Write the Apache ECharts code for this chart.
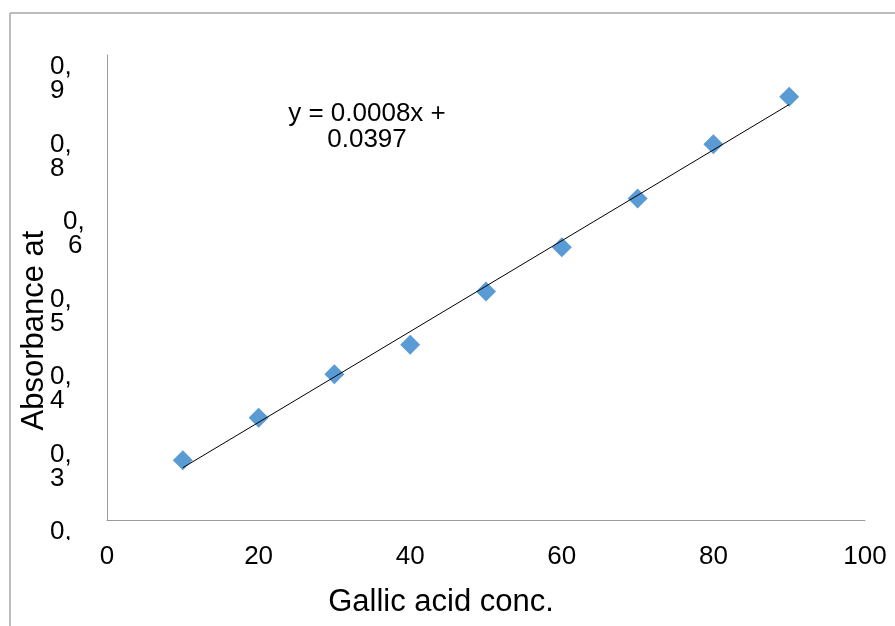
<!DOCTYPE html>
<html>
<head>
<meta charset="utf-8">
<script src="https://cdn.jsdelivr.net/npm/echarts@6/dist/echarts.min.js"></script>
<style>
html,body{margin:0;padding:0;background:#fff;}
#chart{width:895px;height:626px;}
</style>
</head>
<body>
<div id="chart"></div>
<script>
// Data
var concentrations = [10, 20, 30, 40, 50, 60, 70, 80, 90];
var absorbance = [0.077, 0.132, 0.188, 0.226, 0.295, 0.352, 0.415, 0.485, 0.546];
var xTickLabels = ['0', '20', '40', '60', '80', '100'];
var yTickLabels = ['0,\n0', '0,\n3', '0,\n4', '0,\n5', '0,\n6', '0,\n8', '0,\n9'];
var equationLines = ['y = 0.0008x +', '0.0397'];
var xTitle = 'Gallic acid conc.';
var yTitle = 'Absorbance at';

// least-squares trendline from the data
var n = concentrations.length, sx = 0, sy = 0, sxx = 0, sxy = 0;
for (var i = 0; i < n; i++) {
  sx += concentrations[i]; sy += absorbance[i];
  sxx += concentrations[i] * concentrations[i];
  sxy += concentrations[i] * absorbance[i];
}
var slope = (n * sxy - sx * sy) / (n * sxx - sx * sx);
var intercept = (sy - slope * sx) / n;
var xFirst = concentrations[0], xLast = concentrations[n - 1];
var trend = [[xFirst, intercept + slope * xFirst], [xLast, intercept + slope * xLast]];

var font = '"Liberation Sans", Arial, sans-serif';
var chart = echarts.init(document.getElementById('chart'), null, {renderer: 'canvas'});
chart.setOption({
  animation: false,
  backgroundColor: '#ffffff',
  grid: {left: 107, right: 30, top: 55, bottom: 106, containLabel: false},
  xAxis: {
    type: 'value', min: 0, max: 100, interval: 20,
    axisLine: {show: true, lineStyle: {color: '#9a9a9a', width: 1}},
    axisTick: {show: false},
    splitLine: {show: false},
    axisLabel: {
      color: '#000', fontFamily: font, fontSize: 26, margin: 24,
      showMinLabel: true, showMaxLabel: true,
      formatter: function (v) { return xTickLabels[Math.round(v / 20)]; }
    },
    name: xTitle, nameLocation: 'middle', nameGap: 67, nameMoveOverlap: false,
    nameTextStyle: {color: '#000', fontFamily: font, fontSize: 31, padding: [0, 90, 0, 0]}
  },
  yAxis: {
    type: 'value', min: 0, max: 0.6, interval: 0.1,
    axisLine: {show: true, lineStyle: {color: '#9a9a9a', width: 1}},
    axisTick: {show: false},
    splitLine: {show: false},
    axisLabel: {
      color: '#000', fontFamily: font, fontSize: 26, lineHeight: 24,
      align: 'left', margin: 57, verticalAlign: 'top',
      showMinLabel: true, showMaxLabel: true,
      formatter: function (v) {
        var idx = Math.round(v * 10);
        var t = yTickLabels[idx];
        if (idx === 4) {
          var parts = t.split('\n');
          return '{p|' + parts[0] + '}\n{q|' + parts[1] + '}';
        }
        return t;
      },
      rich: {
        p: {fontFamily: font, fontSize: 26, lineHeight: 24, color: '#000', padding: [0, 0, 0, 13]},
        q: {fontFamily: font, fontSize: 26, lineHeight: 24, color: '#000', padding: [0, 0, 0, 18]}
      }
    },
    name: yTitle, nameLocation: 'middle', nameGap: 57, nameMoveOverlap: false,
    nameTextStyle: {color: '#000', fontFamily: font, fontSize: 31, padding: [0, 86, 0, 0]}
  },
  series: [
    {
      type: 'scatter', name: 'data',
      data: concentrations.map(function (x, i) { return [x, absorbance[i]]; }),
      symbol: 'diamond', symbolSize: 20,
      itemStyle: {color: '#5b9bd5', opacity: 1}, z: 2
    },
    {
      type: 'line', name: 'trend', data: trend,
      showSymbol: false, symbol: 'none',
      lineStyle: {color: '#000', width: 1}, z: 3
    }
  ],
  graphic: [
    {type: 'line', shape: {x1: 10, y1: 13, x2: 895, y2: 13}, style: {stroke: '#a6a6a6', lineWidth: 1.5}},
    {type: 'line', shape: {x1: 10, y1: 13, x2: 10, y2: 626}, style: {stroke: '#a6a6a6', lineWidth: 1.5}},
    {type: 'rect', shape: {x: 30, y: 540, width: 62, height: 34}, style: {fill: '#fff'}, z: 100},
    {type: 'text', x: 367, y: 101, z: 100,
     style: {text: equationLines[0] + '\n' + equationLines[1], align: 'center', verticalAlign: 'top', fill: '#000',
       font: '26px "Liberation Sans", Arial, sans-serif', lineHeight: 26}}
  ]
});
</script>
</body>
</html>
